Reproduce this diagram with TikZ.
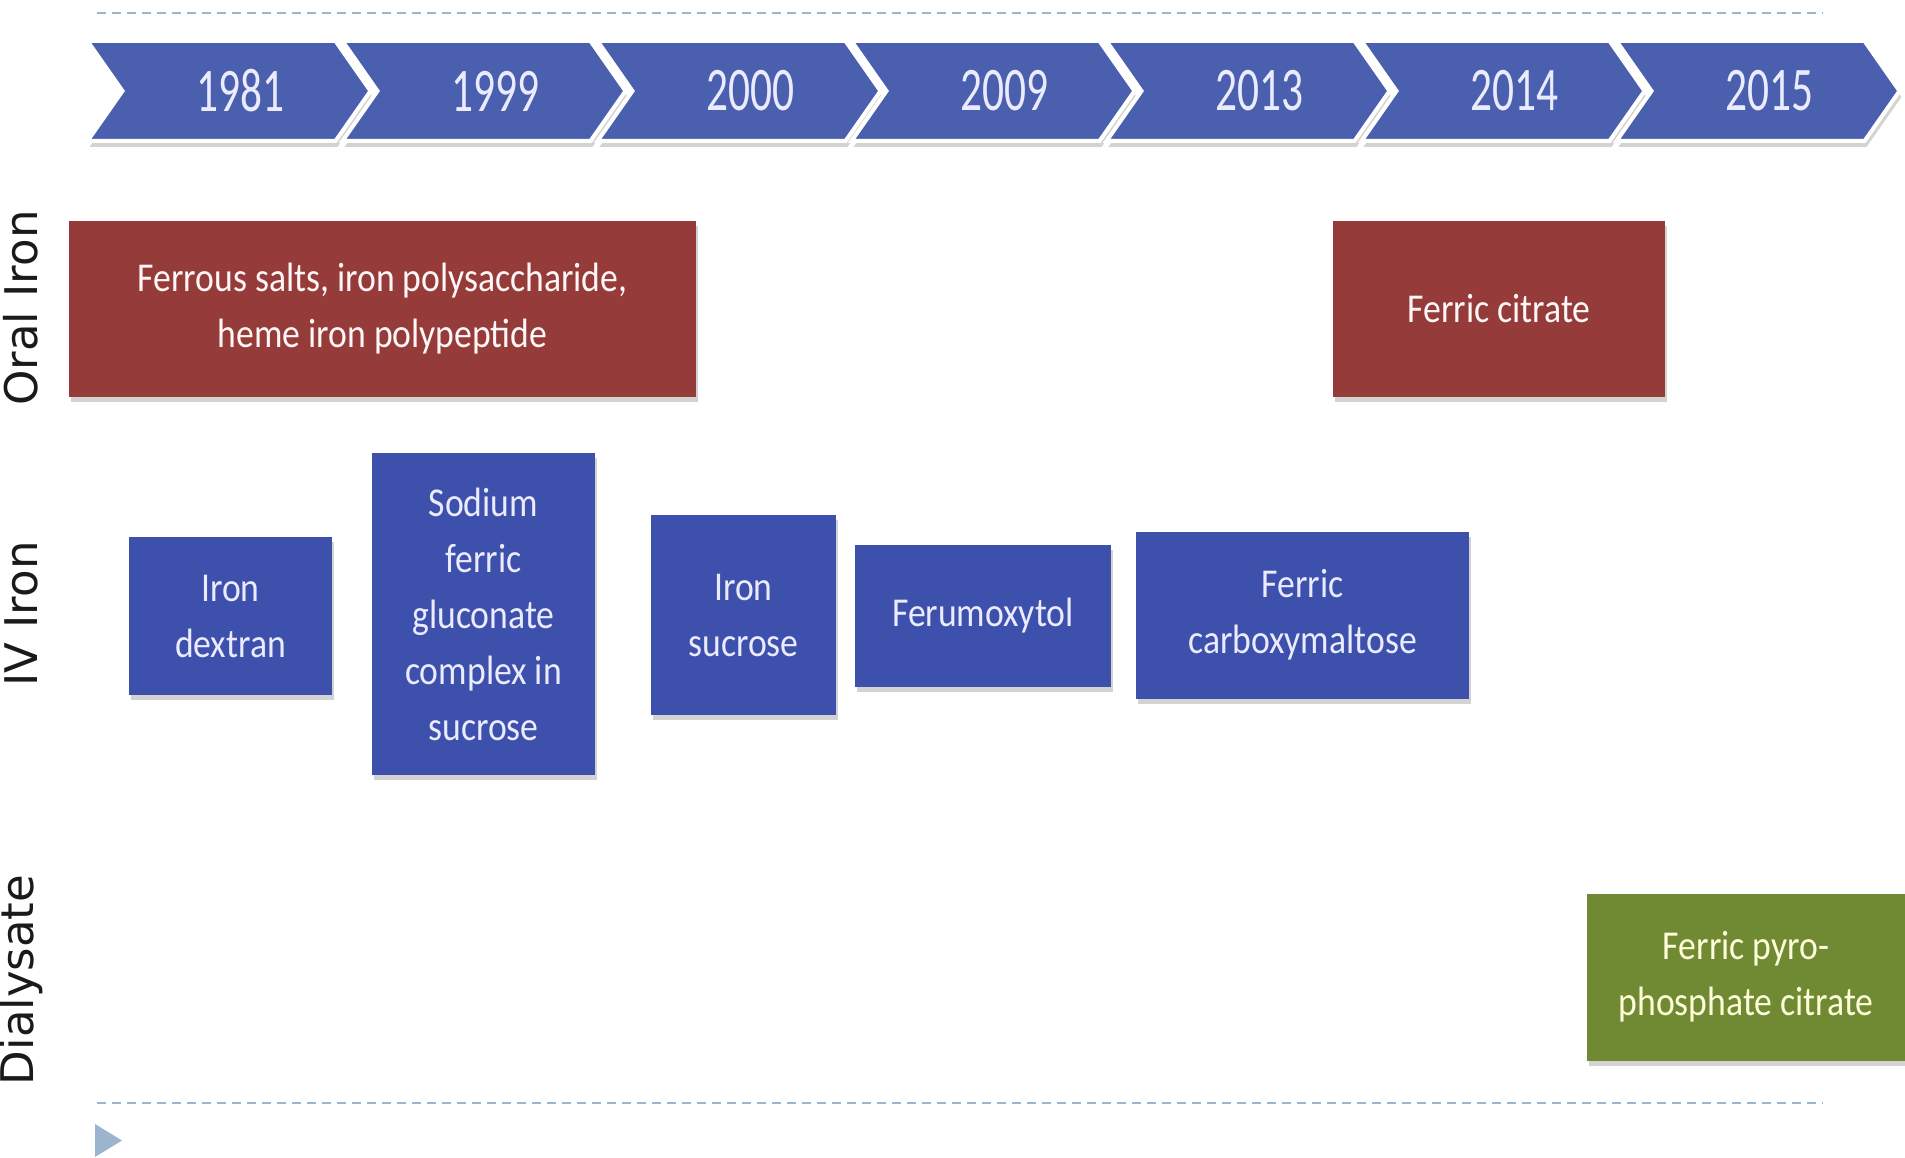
\documentclass[tikz,border=0pt]{standalone}
\usepackage{fontspec}
\setmainfont{Carlito}
\newfontfamily\boxfont[FakeStretch=0.87]{Carlito}
\newfontfamily\yearfont[FakeStretch=0.7]{Carlito}
\newfontfamily\sidefont{DejaVu Sans}
\usepackage{tikz}
\usetikzlibrary{shapes.symbols,shadows}
\usepackage{xcolor}
\definecolor{chev}{HTML}{4B5FAF}
\definecolor{ivblue}{HTML}{3D50AB}
\definecolor{oral}{HTML}{953B39}
\definecolor{dial}{HTML}{6F8A32}
\definecolor{guide}{HTML}{9BB5CE}
\definecolor{ink}{HTML}{1A1A1A}
\tikzset{
  yearbox/.style={signal,signal from=west,signal to=east,signal pointer angle=110,
    fill=chev,draw=white,line width=4pt,minimum width=283pt,minimum height=100pt,inner sep=0pt,
    text=white!92!blue,font=\yearfont\fontsize{62}{64}\selectfont,
    execute at begin node={\hspace*{22pt}},
    drop shadow={opacity=0.35,shadow xshift=2pt,shadow yshift=-6pt}},
  box/.style={rectangle,align=center,inner sep=4pt,font=\boxfont\fontsize{41}{56}\selectfont,
    drop shadow={opacity=0.35,shadow xshift=2pt,shadow yshift=-5pt}},
  oralbox/.style={box,fill=oral,text=white!88!pink},
  ivbox/.style={box,fill=ivblue,text=white!92!blue},
  dialbox/.style={box,fill=dial,text=white!85!yellow},
  lane/.style={rotate=90,font=\sidefont\fontsize{45}{48}\selectfont,text=ink},
  guideline/.style={draw=guide,line width=2pt,dash pattern=on 9pt off 6pt},
}

\begin{document}
\begin{tikzpicture}[x=1pt,y=-1pt]
\useasboundingbox (0,0) rectangle (1905,1158);

% timeline
\node[yearbox] (y1981) at (229,91) {1981};
\node[yearbox] (y1999) at (484,91) {1999};
\node[yearbox] (y2000) at (739,91) {2000};
\node[yearbox] (y2009) at (993,91) {2009};
\node[yearbox] (y2013) at (1248,91) {2013};
\node[yearbox] (y2014) at (1503,91) {2014};
\node[yearbox] (y2015) at (1758,91) {2015};

% lanes
\node[lane] (laneoral) at (21,308) {Oral Iron};
\node[lane] (laneiv) at (21,614) {IV Iron};
\node[lane] (lanedial) at (21,980) {Dialysate};

\node[oralbox,minimum width=627pt,minimum height=176pt] (salts) at (382.5,309) {Ferrous salts, iron polysaccharide,\\heme iron polypeptide};
\node[oralbox,minimum width=332pt,minimum height=176pt] (citrate) at (1499,309) {Ferric citrate};

\node[ivbox,minimum width=203pt,minimum height=158pt] (dextran) at (230.5,616) {Iron\\dextran};
\node[ivbox,minimum width=223pt,minimum height=322pt] (gluconate) at (483.5,614) {Sodium\\ferric\\gluconate\\complex in\\sucrose};
\node[ivbox,minimum width=185pt,minimum height=200pt] (sucrose) at (743.5,615) {Iron\\sucrose};
\node[ivbox,minimum width=256pt,minimum height=142pt] (ferumox) at (983,616) {Ferumoxytol};
\node[ivbox,minimum width=333pt,minimum height=167pt] (carboxy) at (1302.5,615) {Ferric\\carboxymaltose};

\node[dialbox,minimum width=318pt,minimum height=167pt] (pyro) at (1746,977) {Ferric pyro-\\phosphate citrate};

% slide guides
\draw[guideline] (97,13) -- (1823,13);
\draw[guideline] (97,1103) -- (1823,1103);
\fill[guide] (95,1124) -- (122,1140.5) -- (95,1157) -- cycle;

\end{tikzpicture}
\end{document}
